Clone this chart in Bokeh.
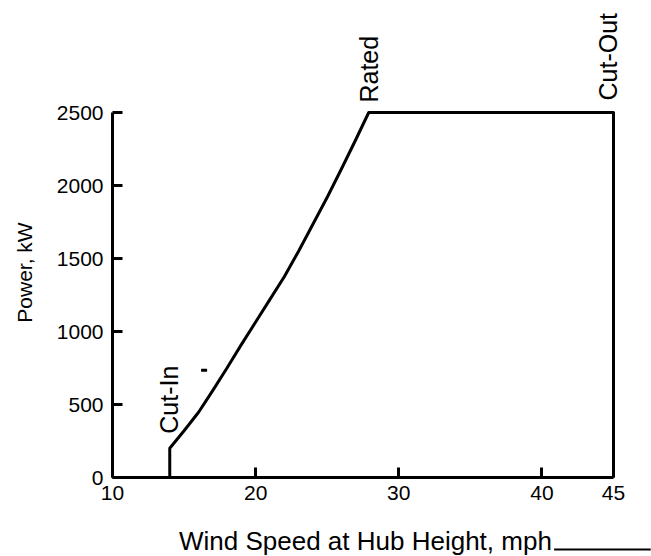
from math import pi
from bokeh.plotting import figure
from bokeh.models import Range1d, FixedTicker, Label, Arrow
from bokeh.embed import file_html
from bokeh.resources import INLINE

# ---- data ----
wind_speed_mph = [14, 14, 15, 16, 17, 18, 19, 20, 21, 22, 23, 24, 25, 26, 27, 27.9, 45, 45]
power_kw = [0, 200, 320, 445, 595, 750, 910, 1065, 1220, 1375, 1550, 1735, 1920, 2115, 2315, 2500, 2500, 0]
x_ticks = [10, 20, 30, 40, 45]
y_ticks = [0, 500, 1000, 1500, 2000, 2500]
point_names = ["Cut-In", "Rated", "Cut-Out"]
point_x = [13.95, 27.95, 44.65]
point_y = [300, 2568, 2582]
stray_x = [16.4]
stray_y = [735]

FONT = "Liberation Sans"
W, H = 651, 556
# pixel geometry of the plotting area (from the reference)
PX_LEFT, PX_RIGHT, PX_TOP, PX_BOTTOM = 112, 613, 112, 477
sx = (PX_RIGHT - PX_LEFT) / (x_ticks[-1] - x_ticks[0])
sy = (PX_BOTTOM - PX_TOP) / (y_ticks[-1] - y_ticks[0])

x_range = Range1d(x_ticks[0] - PX_LEFT / sx, x_ticks[0] + (W - PX_LEFT) / sx)
y_range = Range1d(-(H - PX_BOTTOM) / sy, PX_BOTTOM / sy)

p = figure(width=W, height=H, output_backend="svg", toolbar_location=None,
           x_range=x_range, y_range=y_range,
           min_border_left=0, min_border_right=0, min_border_top=0, min_border_bottom=0)
p.outline_line_color = None
p.grid.visible = False
p.background_fill_color = "white"
p.border_fill_color = "white"

p.line(wind_speed_mph, power_kw, line_width=3, line_color="black", line_join="round")
p.scatter(stray_x, stray_y, marker="dash", size=6, line_width=3, line_color="black")

for ax in (p.xaxis[0], p.yaxis[0]):
    ax.axis_line_width = 3
    ax.axis_line_color = "black"
    ax.major_tick_in = 10
    ax.major_tick_out = 0
    ax.major_tick_line_width = 3
    ax.major_tick_line_color = "black"
    ax.minor_tick_line_color = None
    ax.major_label_text_font = FONT
    ax.major_label_text_font_size = "21px"
    ax.major_label_text_color = "black"

p.xaxis.ticker = FixedTicker(ticks=x_ticks)
p.yaxis.ticker = FixedTicker(ticks=y_ticks)
p.xaxis.bounds = (x_ticks[0], x_ticks[-1])
p.yaxis.bounds = (y_ticks[0], y_ticks[-1])
p.xaxis.fixed_location = y_ticks[0]
p.yaxis.fixed_location = x_ticks[0]
p.xaxis.major_label_standoff = 8
p.yaxis.major_label_standoff = 9

# axis titles
p.add_layout(Label(x=27.67, y=-432, text="Wind Speed at Hub Height, mph",
                   text_align="center", text_baseline="middle",
                   text_font=FONT, text_font_size="26px", text_color="black"))
p.add_layout(Label(x=3.85, y=1404, text="Power, kW", angle=pi / 2,
                   text_align="center", text_baseline="middle",
                   text_font=FONT, text_font_size="21px", text_color="black"))

for name, x, y in zip(point_names, point_x, point_y):
    p.add_layout(Label(x=x, y=y, text=name, angle=pi / 2, text_align="left",
                       text_baseline="middle", text_font=FONT, text_font_size="25px",
                       text_color="black"))

p.add_layout(Arrow(end=None, x_start=40.85, y_start=-493, x_end=47.6, y_end=-493,
                   line_width=2, line_color="black"))

open("out.html", "w").write(file_html(p, INLINE))
